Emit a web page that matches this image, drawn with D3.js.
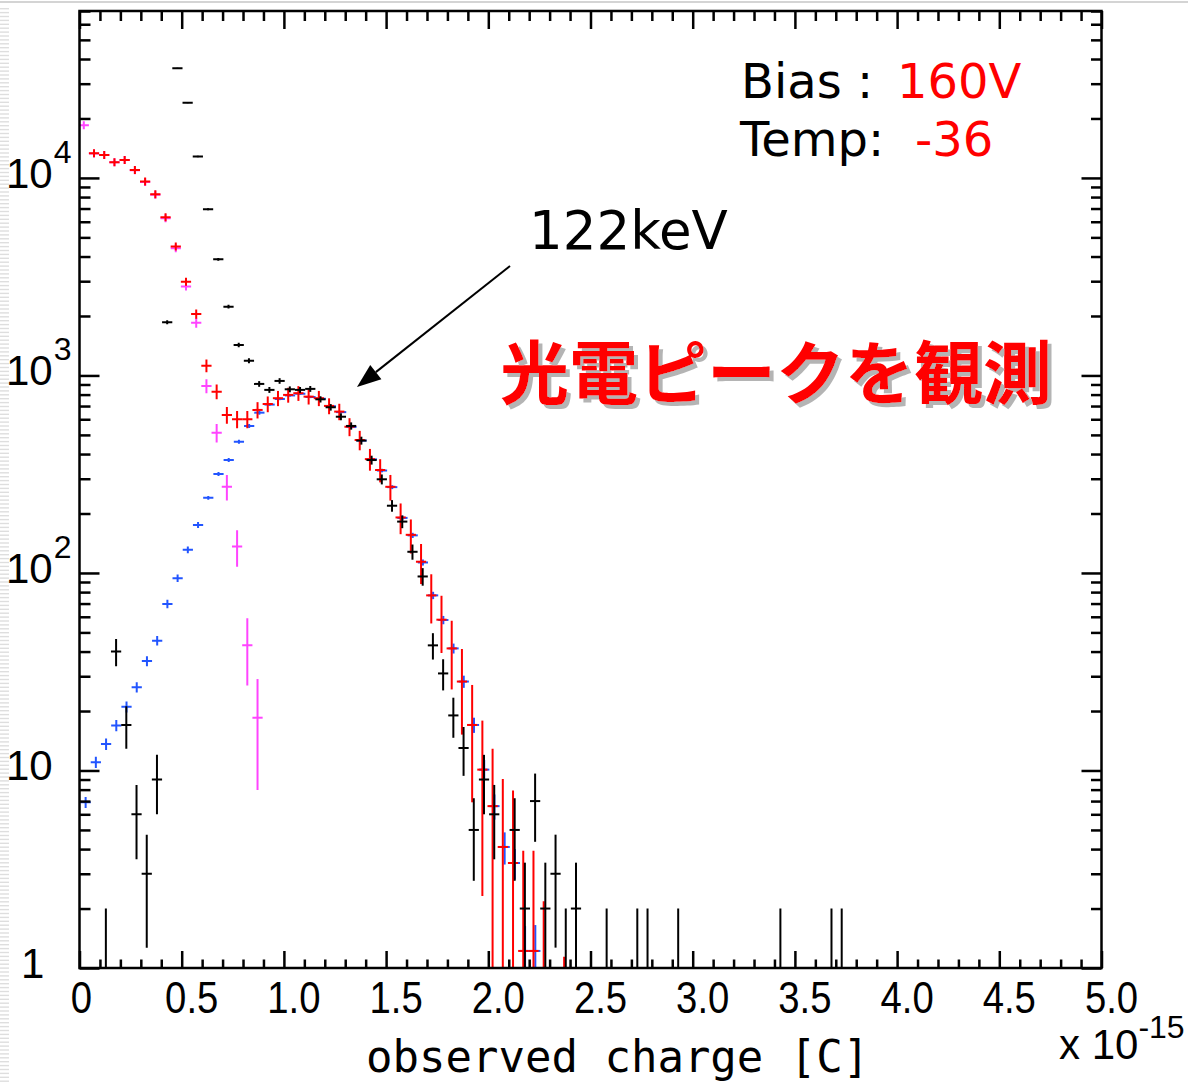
<!DOCTYPE html>
<html>
<head>
<meta charset="utf-8">
<script src="https://cdn.jsdelivr.net/npm/d3@7"></script>
<style>
  html, body { margin: 0; padding: 0; background: #fff; }
  svg { display: block; }
</style>
</head>
<body>
<svg id="chart" width="1188" height="1082"></svg>
<script>
// Histogram binning along the charge axis (units of 1e-15 C)
const binWidth = 0.05;
const firstBinCenter = 0.025;

// Counts per bin, bin index 0,1,2,...  (0 = empty bin)
const blackCounts = [
  0, 0, 1, 40, 17, 6, 3, 9, 1860, 35900,
  24050, 12820, 6940, 3875, 2230, 1427, 1188, 906, 845, 938,
  851, 845, 855, 757, 690, 618, 555, 468, 373, 298,
  219, 182, 128, 96, 43, 31, 19, 13, 5, 9,
  6, 0, 5, 2, 7, 2, 3, 1, 2, 0,
  0, 1, 0, 0, 1, 1, 0, 0, 1, 0,
  0, 0, 0, 0, 0, 0, 0, 0, 1, 0,
  0, 0, 0, 1, 1
];
const redCounts = [
  0, 13330, 13070, 12020, 12340, 10980, 9580, 8270, 6320, 4490,
  2985, 2048, 1121, 828, 631, 600, 600, 669, 717, 767,
  797, 813, 781, 767, 701, 656, 550, 471, 377, 332,
  273, 191, 156, 114, 77, 58, 41.5, 28.2, 17, 10.1,
  6.6, 4.1, 3.4, 1.22, 1.22, 0.48, 0, 0.16
];
const magentaCounts = [
  18500, 13300, 13050, 12000, 12320, 10950, 9540, 8220, 6250, 4400,
  2818, 1850, 885, 513, 273, 136, 43, 18.5
];
const blueCounts = [
  6.9, 11.0, 13.6, 16.9, 21.0, 26.4, 35.8, 45.4, 69.7, 94,
  131, 175, 240, 317, 373, 462, 555, 648, 712, 760,
  792, 808, 778, 762, 698, 652, 548, 468, 376, 330,
  272, 190, 155, 113, 77, 57.8, 41.5, 28.2, 17, 10.1,
  6.6, 4.1, 3.4, 1.22, 1.22
];
// Errors of the blue (weighted) histogram, per bin
const blueErrors = [
  0.45, 0.72, 0.9, 1.1, 1.35, 1.6, 2.1, 2.5, 3.4, 4.1,
  5.3, 6.3, 5.5, 7.3, 8.6, 10.6, 12.8, 15, 10.0, 10.3,
  10.5, 10.6, 10.4, 10.3, 9.9, 9.6, 8.8, 8.1, 7.3, 6.8,
  6.2, 5.2, 4.7, 4.0, 3.3, 2.8, 2.4, 2.0, 1.5, 1.2,
  0.96, 0.76, 0.6, 0.41, 0.43
];

// Each series: colour, bin-centre shift (1e-15 C), Poisson error scale (sigma = sqrt(scale * N)),
// and half-height of its "+" marker in pixels
const seriesOrder = ["magenta", "blue", "red", "black"];
const seriesColor = { black: "#000000", red: "#ff0000", magenta: "#ff44ff", blue: "#2255ff" };
const seriesShift = { black: 0.004, red: -0.004, magenta: -0.004, blue: 0.005 };
const errorScale  = { black: 1, red: 6, magenta: 6, blue: null };
const markerHalf  = { black: 0, red: 4, magenta: 4, blue: 0 };
const seriesCounts = { black: blackCounts, red: redCounts, magenta: magentaCounts, blue: blueCounts };

// Axes
const xDomain = [0, 5];
const yDomain = [1, 70000];
const xMajorTicks = [0, 0.5, 1.0, 1.5, 2.0, 2.5, 3.0, 3.5, 4.0, 4.5, 5.0];
const xTickLabels = ["0", "0.5", "1.0", "1.5", "2.0", "2.5", "3.0", "3.5", "4.0", "4.5", "5.0"];
const yDecades = [0, 1, 2, 3, 4];

const svg = d3.select("#chart");
const W = 1188, H = 1082;
const plot = { left: 79.5, right: 1101.5, top: 11, bottom: 968 };

const x = d3.scaleLinear().domain(xDomain).range([plot.left, plot.right]);
const y = d3.scaleLog().domain(yDomain).range([plot.bottom, plot.top]);

const defs = svg.append("defs");
const shadow = defs.append("filter").attr("id", "dropShadow")
  .attr("x", "-5%").attr("y", "-20%").attr("width", "115%").attr("height", "150%");
shadow.append("feOffset").attr("in", "SourceAlpha").attr("dx", 3.5).attr("dy", 3.5).attr("result", "off");
shadow.append("feFlood").attr("flood-color", "#b4b4b4").attr("result", "grey");
shadow.append("feComposite").attr("in", "grey").attr("in2", "off").attr("operator", "in").attr("result", "sh");
const merge = shadow.append("feMerge");
merge.append("feMergeNode").attr("in", "sh");
merge.append("feMergeNode").attr("in", "SourceGraphic");

defs.append("clipPath").attr("id", "plotClip").append("rect")
  .attr("x", plot.left).attr("y", plot.top)
  .attr("width", plot.right - plot.left).attr("height", plot.bottom - plot.top);

svg.append("rect").attr("width", W).attr("height", H).attr("fill", "#fff");

// slide edge decorations
svg.append("line").attr("x1", 0).attr("x2", W).attr("y1", 2).attr("y2", 2)
  .attr("stroke", "#d4d4d4").attr("stroke-width", 2);
svg.append("g").selectAll("rect").data(d3.range(8, H, 3.9)).join("rect")
  .attr("x", 0).attr("width", 9).attr("y", d => d).attr("height", 1.4)
  .attr("fill", "#dedede");

const dataG = svg.append("g").attr("clip-path", "url(#plotClip)");

seriesOrder.forEach(name => {
  const counts = seriesCounts[name];
  const pts = counts.map((v, i) => ({
    xc: firstBinCenter + i * binWidth + seriesShift[name],
    v: v,
    err: name === "blue" ? blueErrors[i] : Math.sqrt(errorScale[name] * v)
  })).filter(d => d.v > 0);

  const g = dataG.append("g").attr("stroke", seriesColor[name]).attr("stroke-width", 2).attr("fill", "none");
  const m = markerHalf[name];
  // vertical error bars (at least as long as the marker)
  g.selectAll("line.v").data(pts).join("line").attr("class", "v")
    .attr("x1", d => x(d.xc)).attr("x2", d => x(d.xc))
    .attr("y1", d => {
      const yl = y(Math.max(d.v - d.err, 0.01));
      return d.v >= yDomain[0] ? Math.max(yl, y(d.v) + m) : yl;
    })
    .attr("y2", d => {
      const yh = y(d.v + d.err);
      return d.v >= yDomain[0] ? Math.min(yh, y(d.v) - m) : yh;
    });
  // horizontal bin-width bars
  g.selectAll("line.h").data(pts.filter(d => d.v >= yDomain[0])).join("line").attr("class", "h")
    .attr("x1", d => x(d.xc - binWidth / 2)).attr("x2", d => x(d.xc + binWidth / 2))
    .attr("y1", d => y(d.v)).attr("y2", d => y(d.v));
});

// ticks (pointing inward on all four sides)
const xMinorTicks = d3.range(0, 50).map(i => i / 10).filter(v => Math.abs(v * 2 - Math.round(v * 2)) > 1e-6);
const yMajorTicks = yDecades.map(e => Math.pow(10, e));
const yMinorTicks = [];
yDecades.forEach(e => { for (let m = 2; m <= 9; m++) { const v = m * Math.pow(10, e); if (v <= yDomain[1]) yMinorTicks.push(v); } });

function styleAxis(sel) {
  sel.select(".domain").remove();
  sel.selectAll(".tick line").attr("stroke", "#000").attr("stroke-width", 2.5);
  sel.selectAll(".tick text").remove();
}
const axG = svg.append("g");
axG.append("g").attr("transform", `translate(0,${plot.bottom})`)
  .call(d3.axisBottom(x).tickValues(xMinorTicks).tickSize(-8.5).tickFormat("")).call(styleAxis);
axG.append("g").attr("transform", `translate(0,${plot.bottom})`)
  .call(d3.axisBottom(x).tickValues(xMajorTicks).tickSize(-17).tickFormat("")).call(styleAxis);
axG.append("g").attr("transform", `translate(0,${plot.top})`)
  .call(d3.axisTop(x).tickValues(xMinorTicks).tickSize(-10).tickFormat("")).call(styleAxis);
axG.append("g").attr("transform", `translate(0,${plot.top})`)
  .call(d3.axisTop(x).tickValues(xMajorTicks).tickSize(-18).tickFormat("")).call(styleAxis);
axG.append("g").attr("transform", `translate(${plot.left},0)`)
  .call(d3.axisLeft(y).tickValues(yMinorTicks).tickSize(-11).tickFormat("")).call(styleAxis);
axG.append("g").attr("transform", `translate(${plot.left},0)`)
  .call(d3.axisLeft(y).tickValues(yMajorTicks).tickSize(-20).tickFormat("")).call(styleAxis);
axG.append("g").attr("transform", `translate(${plot.right},0)`)
  .call(d3.axisRight(y).tickValues(yMinorTicks).tickSize(-10.5).tickFormat("")).call(styleAxis);
axG.append("g").attr("transform", `translate(${plot.right},0)`)
  .call(d3.axisRight(y).tickValues(yMajorTicks).tickSize(-20).tickFormat("")).call(styleAxis);

// frame
svg.append("rect").attr("x", plot.left).attr("y", plot.top)
  .attr("width", plot.right - plot.left).attr("height", plot.bottom - plot.top)
  .attr("fill", "none").attr("stroke", "#000").attr("stroke-width", 2.5);

// x tick labels
const labelFont = "'Liberation Sans', Arial, sans-serif";
svg.append("g").selectAll("text").data(xMajorTicks).join("text")
  .attr("transform", (d, i) => `translate(${x(d) + (i === 0 ? 2 : 10)},1013) scale(0.87,1)`)
  .attr("text-anchor", "middle")
  .attr("font-family", labelFont).attr("font-size", 44).attr("fill", "#000")
  .text((d, i) => xTickLabels[i]);

// y tick labels: 1, 10, 10^2, 10^3, 10^4
const yl = svg.append("g").attr("font-family", labelFont).attr("fill", "#000");
yDecades.forEach(e => {
  const ty = y(Math.pow(10, e));
  if (e === 0) {
    yl.append("text").attr("x", 21).attr("y", ty + 10).attr("font-size", 42).text("1");
  } else {
    const t = yl.append("text").attr("x", 6).attr("y", ty + 10).attr("font-size", 42);
    t.append("tspan").text("10");
    if (e > 1) t.append("tspan").attr("dx", 1).attr("dy", -25).attr("font-size", 32).text(String(e));
  }
});

// axis title and exponent
svg.append("text").attr("x", 366).attr("y", 1072)
  .attr("font-family", "'DejaVu Sans Mono', monospace").attr("font-size", 44).attr("fill", "#000")
  .text("observed charge [C]");
const ex = svg.append("text").attr("x", 1059).attr("y", 1059)
  .attr("font-family", labelFont).attr("font-size", 42).attr("fill", "#000");
ex.append("tspan").text("x 10");
ex.append("tspan").attr("dx", 0).attr("dy", -21).attr("font-size", 32).text("-15");

// run conditions
const infoFont = "'DejaVu Sans', Verdana, sans-serif";
const t1 = svg.append("text").attr("x", 741).attr("y", 98).attr("font-family", infoFont).attr("font-size", 48);
t1.append("tspan").attr("fill", "#000").text("Bias : ");
t1.append("tspan").attr("fill", "#ff0000").attr("x", 897).text("160V");
const t2 = svg.append("text").attr("x", 740).attr("y", 156).attr("font-family", infoFont).attr("font-size", 48);
t2.append("tspan").attr("fill", "#000").text("Temp:");
t2.append("tspan").attr("fill", "#ff0000").attr("x", 915).text("-36");

// peak annotation
svg.append("text").attr("x", 529).attr("y", 249).attr("font-family", infoFont)
  .attr("font-size", 53).attr("fill", "#000").text("122keV");
const tip = [357, 387], tail = [510, 266];
const ang = Math.atan2(tip[1] - tail[1], tip[0] - tail[0]);
const headLen = 24, headHalf = 9;
const base = [tip[0] - headLen * Math.cos(ang), tip[1] - headLen * Math.sin(ang)];
svg.append("line").attr("x1", tail[0]).attr("y1", tail[1]).attr("x2", base[0]).attr("y2", base[1])
  .attr("stroke", "#000").attr("stroke-width", 2);
svg.append("path")
  .attr("d", d3.line()([
    tip,
    [base[0] + headHalf * Math.sin(ang), base[1] - headHalf * Math.cos(ang)],
    [base[0] - headHalf * Math.sin(ang), base[1] + headHalf * Math.cos(ang)]
  ]) + "Z")
  .attr("fill", "#000");

// headline with drop shadow
svg.append("text").attr("x", 500).attr("y", 399)
  .attr("font-family", "'Noto Sans CJK JP', sans-serif")
  .attr("font-weight", 700).attr("font-size", 69).attr("fill", "#ff0000")
  .attr("filter", "url(#dropShadow)")
  .text("光電ピークを観測");
</script>
</body>
</html>
